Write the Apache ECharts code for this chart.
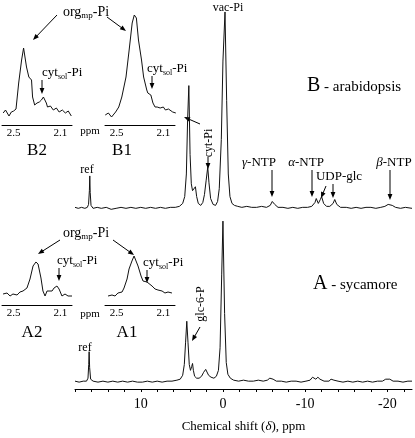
<!DOCTYPE html>
<html>
<head>
<meta charset="utf-8">
<script src="https://cdn.jsdelivr.net/npm/echarts@6/dist/echarts.min.js"></script>
<style>
  html, body { margin: 0; padding: 0; background: #fff; }
  #chart { width: 415px; height: 438px; }
</style>
</head>
<body>
<div id="chart"></div>
<script>
// 31P NMR spectra, [ppm, intensity]
const spectrumB = [
  [18.0,1],[17.6,0],[17.2,1],[16.8,0],[16.5,1],[16.35,4],[16.25,18],[16.2,33],[16.15,16],[16.05,3],
  [15.8,0],[15.3,1],[14.8,0],[14.2,1],[13.6,-1],[13.0,0],[12.4,1],[11.8,0],[11.2,1],[10.6,0],[10.0,1],
  [9.4,0],[8.8,1],[8.2,0],[7.6,1],[7.0,0],[6.4,1],[5.8,1],[5.3,2],[4.9,5],[4.65,12],[4.45,35],[4.3,90],
  [4.15,125],[4.0,55],[3.85,25],[3.7,18],[3.5,20],[3.35,22],[3.2,12],[3.0,5],[2.7,3],[2.45,6],[2.25,14],
  [2.05,28],[1.85,42],[1.7,26],[1.5,10],[1.2,4],[0.9,3],[0.65,7],[0.45,20],[0.2,70],[0.0,150],[-0.25,200],
  [-0.45,110],[-0.65,35],[-0.85,12],[-1.1,5],[-1.4,3],[-1.55,5],[-1.8,2],[-2.3,1],[-2.9,2],[-3.5,1],
  [-4.1,1],[-4.7,2],[-5.3,1],[-5.75,3],[-6.0,7],[-6.1,9],[-6.3,4],[-6.7,1],[-7.3,1],[-7.9,0],[-8.5,1],
  [-9.1,0],[-9.7,1],[-10.3,1],[-10.8,2],[-11.2,6],[-11.35,10],[-11.6,5],[-11.85,9],[-12.0,12],[-12.25,5],
  [-12.6,2],[-13.0,2],[-13.4,5],[-13.6,9],[-13.85,4],[-14.3,1],[-15.0,1],[-15.6,0],[-16.2,1],[-16.8,0],
  [-17.4,1],[-18.0,1],[-18.6,0],[-19.2,1],[-19.7,2],[-20.1,4],[-20.3,5],[-20.6,3],[-21.0,1],[-21.6,0],
  [-22.2,1],[-23.0,0]
];
const spectrumA = [
  [18.0,1],[17.5,0],[17.0,1],[16.6,1],[16.42,4],[16.33,18],[16.28,31],[16.22,15],[16.1,3],[15.8,1],
  [15.2,0],[14.6,1],[14.0,0],[13.4,1],[12.8,0],[12.2,1],[11.6,0],[11.0,1],[10.4,0],[9.8,0],[9.2,1],
  [8.6,0],[8.0,1],[7.4,0],[6.8,1],[6.2,1],[5.6,2],[5.2,3],[4.9,7],[4.7,18],[4.55,40],[4.4,62],[4.25,40],
  [4.1,18],[3.95,12],[3.8,16],[3.7,19],[3.6,12],[3.45,6],[3.2,4],[2.9,4],[2.6,6],[2.35,10],[2.1,13],
  [1.95,11],[1.75,7],[1.45,5],[1.1,4],[0.8,6],[0.55,12],[0.35,35],[0.15,110],[0.0,164],[-0.2,70],
  [-0.4,20],[-0.6,8],[-0.9,4],[-1.3,2],[-1.9,1],[-2.5,2],[-3.1,1],[-3.7,1],[-4.3,2],[-4.9,1],[-5.4,2],
  [-5.7,4],[-5.9,6],[-6.1,3],[-6.5,1],[-7.1,1],[-7.7,0],[-8.3,1],[-8.9,1],[-9.5,0],[-10.1,1],[-10.6,2],
  [-10.9,5],[-11.0,7],[-11.3,3],[-11.55,5],[-11.8,3],[-12.3,1],[-12.9,1],[-13.15,3],[-13.3,4],[-13.5,2],
  [-14.0,1],[-14.6,0],[-15.2,1],[-15.8,0],[-16.4,1],[-17.0,0],[-17.6,1],[-18.2,0],[-18.8,1],[-19.4,1],
  [-19.8,3],[-20.0,4],[-20.3,3],[-20.7,1],[-21.3,1],[-21.9,0],[-22.5,1],[-23.0,1]
];
// expanded 2.0-2.6 ppm regions
const insetB2 = [
  [2.59,12],[2.57,15],[2.54,9],[2.52,13],[2.50,14],[2.48,16],[2.457,42],[2.432,65],[2.415,77],[2.39,58],
  [2.37,48],[2.347,45],[2.338,28],[2.32,20],[2.30,22],[2.28,23],[2.262,25],[2.245,28],[2.236,27],[2.22,22],
  [2.21,18],[2.185,19],[2.16,15],[2.134,17],[2.11,13],[2.083,15],[2.057,12],[2.032,14],[2.006,9]
];
const insetB1 = [
  [2.598,10],[2.571,12],[2.544,8],[2.509,13],[2.482,18],[2.456,28],[2.42,48],[2.393,75],[2.367,102],
  [2.349,110],[2.331,107],[2.313,85],[2.287,65],[2.269,48],[2.242,35],[2.233,32],[2.207,30],[2.189,22],
  [2.171,18],[2.153,18],[2.127,17],[2.1,18],[2.082,15],[2.056,16],[2.02,13],[1.993,12]
];
const insetA2 = [
  [2.591,11],[2.557,12],[2.531,9],[2.506,11],[2.471,10],[2.446,13],[2.42,14],[2.386,17],[2.36,26],
  [2.334,39],[2.309,43],[2.291,41],[2.266,27],[2.249,14],[2.231,9],[2.214,14],[2.197,16],[2.171,14],
  [2.154,17],[2.129,19],[2.111,16],[2.086,9],[2.06,11],[2.034,9],[2.0,9]
];
const insetA1 = [
  [2.574,9],[2.54,10],[2.514,9],[2.489,12],[2.454,13],[2.437,17],[2.411,26],[2.394,36],[2.369,44],
  [2.351,49],[2.334,47],[2.317,39],[2.291,29],[2.274,24],[2.24,23],[2.223,21],[2.197,19],[2.171,16],
  [2.146,15],[2.111,14],[2.086,12],[2.06,13],[2.026,12]
];
const axisTicks = [18,16,14,12,10,8,6,4,2,0,-2,-4,-6,-8,-10,-12,-14,-16,-18,-20,-22];
const axisLabels = [10, 0, -10, -20];
const insetLabels = [2.5, 2.1];

const SERIF = '"Liberation Serif", "DejaVu Serif", serif';
const offsetA = 7, offsetB = 184;

const chart = echarts.init(document.getElementById('chart'));

function txt(x, y, text, size, extra) {
  return Object.assign({
    type: 'text', x: x, y: y,
    style: Object.assign({ text: text, fill: '#000', fontFamily: SERIF, fontSize: size, align: 'center', verticalAlign: 'middle' },
      (extra && extra.style) || {})
  }, (extra && extra.el) || {});
}
function arrow(x1, y1, x2, y2) {
  const a = Math.atan2(y2 - y1, x2 - x1), c = Math.cos(a), s = Math.sin(a), h = 6, w = 2.4;
  return [
    { type: 'line', shape: { x1: x1, y1: y1, x2: x2 - c * h * 0.7, y2: y2 - s * h * 0.7 }, style: { stroke: '#000', lineWidth: 1 } },
    { type: 'polygon', shape: { points: [[x2, y2], [x2 - h * c - w * s, y2 - h * s + w * c], [x2 - h * c + w * s, y2 - h * s - w * c]] }, style: { fill: '#000' } }
  ];
}
const subRich = {
  a: { fontSize: 14, fontFamily: SERIF },
  s: { fontSize: 9, fontFamily: SERIF, padding: [8, 0, 0, 0] }
};
const cytRich = {
  a: { fontSize: 13, fontFamily: SERIF },
  s: { fontSize: 8, fontFamily: SERIF, padding: [7, 0, 0, 0] }
};
const italRich = { i: { fontStyle: 'italic', fontSize: 13, fontFamily: SERIF }, n: { fontSize: 13, fontFamily: SERIF } };
const titleRich = { b: { fontSize: 20, fontFamily: SERIF }, t: { fontSize: 15, fontFamily: SERIF, padding: [3, 0, 0, 0] } };

const graphics = [
  // B panel
  txt(86, 12, '{a|org}{s|mp}{a|-Pi}', 14, { style: { rich: subRich } }),
  ...arrow(57, 15, 33, 40), ...arrow(107, 17, 126, 31),
  txt(42, 73, '{a|cyt}{s|sol}{a|-Pi}', 13, { style: { rich: cytRich, align: 'left' } }),
  ...arrow(42, 80, 42, 94),
  txt(147, 69, '{a|cyt}{s|sol}{a|-Pi}', 13, { style: { rich: cytRich, align: 'left' } }),
  ...arrow(152, 76, 152, 89),
  txt(90, 131, 'ppm', 11),
  txt(37, 151, 'B2', 17), txt(122, 151, 'B1', 17),
  ...arrow(200, 124, 184, 117),
  txt(228, 8, 'vac-Pi', 12),
  txt(209, 143, 'cyt-Pi', 12, { el: { rotation: Math.PI / 2 } }),
  ...arrow(208, 157, 208, 169),
  txt(87, 170, 'ref', 12),
  txt(307, 86, '{b|B}{t| - arabidopsis}', 15, { style: { align: 'left', rich: titleRich } }),
  txt(259, 163, '{i|γ}{n|-NTP}', 13, { style: { rich: italRich } }),
  ...arrow(272, 170, 272, 197),
  txt(306, 163, '{i|α}{n|-NTP}', 13, { style: { rich: italRich } }),
  ...arrow(312, 170, 312, 197),
  txt(339, 177, 'UDP-glc', 13),
  ...arrow(326, 186, 321, 198), ...arrow(333, 184, 333, 198),
  txt(394, 163, '{i|β}{n|-NTP}', 13, { style: { rich: italRich } }),
  ...arrow(390, 170, 390, 200),
  // A panel
  txt(86, 233, '{a|org}{s|mp}{a|-Pi}', 14, { style: { rich: subRich } }),
  ...arrow(60, 240, 38, 254), ...arrow(113, 240, 134, 255),
  txt(57, 261, '{a|cyt}{s|sol}{a|-Pi}', 13, { style: { rich: cytRich, align: 'left' } }),
  ...arrow(59, 268, 59, 281),
  txt(143, 263, '{a|cyt}{s|sol}{a|-Pi}', 13, { style: { rich: cytRich, align: 'left' } }),
  ...arrow(147, 270, 147, 283),
  txt(90, 314, 'ppm', 11),
  txt(32, 333, 'A2', 17), txt(127, 333, 'A1', 17),
  txt(85, 348, 'ref', 12),
  txt(201, 304, 'glc-6-P', 12, { el: { rotation: Math.PI / 2 } }),
  ...arrow(200, 327, 192, 341),
  txt(313, 284, '{b|A}{t| - sycamore}', 15, { style: { align: 'left', rich: titleRich } })
];

function insetX(gi) {
  return {
    gridIndex: gi, type: 'value', min: 2.0, max: 2.6, inverse: true,
    axisLine: { lineStyle: { color: '#000', width: 1 } },
    axisTick: { show: false },
    splitLine: { show: false },
    axisLabel: { customValues: insetLabels, formatter: v => v.toFixed(1), color: '#000', fontFamily: SERIF, fontSize: 11, margin: 3 }
  };
}
function hiddenY(gi, max) {
  return { gridIndex: gi, type: 'value', min: 0, max: max, show: false };
}
function trace(xi, data, offset) {
  return {
    type: 'line', xAxisIndex: xi, yAxisIndex: xi, showSymbol: false, silent: true, animation: false,
    lineStyle: { color: '#111', width: 1 },
    data: data.map(p => [p[0], p[1] + offset])
  };
}

chart.setOption({
  backgroundColor: '#fff',
  animation: false,
  grid: [
    { left: 75, right: 3, top: 10, bottom: 42 },
    { left: 2, top: 10, width: 70, height: 115 },
    { left: 105, top: 10, width: 70, height: 115 },
    { left: 2, top: 245, width: 70, height: 60 },
    { left: 105, top: 245, width: 70, height: 60 }
  ],
  xAxis: [
    {
      gridIndex: 0, type: 'value', min: -23, max: 18, inverse: true,
      axisLine: { lineStyle: { color: '#000', width: 1 } },
      axisTick: { customValues: axisTicks, length: 3, lineStyle: { color: '#000' } },
      splitLine: { show: false },
      axisLabel: { customValues: axisLabels, color: '#000', fontFamily: SERIF, fontSize: 14, margin: 8 },
      name: 'Chemical shift ({i|δ}), ppm', nameLocation: 'middle', nameGap: 31,
      nameTextStyle: { color: '#000', fontFamily: SERIF, fontSize: 13, rich: { i: { fontStyle: 'italic', fontFamily: SERIF, fontSize: 13 } } }
    },
    insetX(1), insetX(2), insetX(3), insetX(4)
  ],
  yAxis: [hiddenY(0, 386), hiddenY(1, 115), hiddenY(2, 115), hiddenY(3, 60), hiddenY(4, 60)],
  series: [
    trace(0, spectrumB, offsetB),
    trace(0, spectrumA, offsetA),
    trace(1, insetB2, 0),
    trace(2, insetB1, 0),
    trace(3, insetA2, 0),
    trace(4, insetA1, 0)
  ],
  graphic: graphics
});
</script>
</body>
</html>
